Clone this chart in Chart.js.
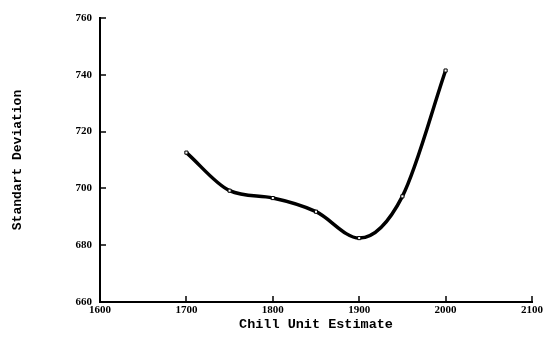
<!DOCTYPE html>
<html><head><meta charset="utf-8">
<script src="https://cdn.jsdelivr.net/npm/chart.js@4"></script>
<style>html,body{margin:0;padding:0;background:#fff}#wrap{width:545px;height:340px}</style>
</head><body><div id="wrap"><canvas id="c"></canvas></div>
<script>
const chillUnits = [1700, 1750, 1800, 1850, 1900, 1950, 2000];
const stdDev = [712.6, 699.2, 696.6, 691.8, 682.5, 697.2, 741.5];
const xTicks = [1600, 1700, 1800, 1900, 2000, 2100];
const yTicks = [660, 680, 700, 720, 740, 760];

const inwardTicks = {
  id: 'inwardTicks',
  afterDraw(chart) {
    const ctx = chart.ctx;
    const xs = chart.scales.x, ys = chart.scales.y;
    ctx.save();
    ctx.strokeStyle = '#000';
    ctx.lineWidth = 1.5;
    xTicks.forEach(v => {
      const px = Math.round(xs.getPixelForValue(v));
      ctx.beginPath(); ctx.moveTo(px, ys.bottom); ctx.lineTo(px, ys.bottom - 6); ctx.stroke();
    });
    yTicks.forEach(v => {
      const py = Math.round(ys.getPixelForValue(v));
      ctx.beginPath(); ctx.moveTo(xs.left, py); ctx.lineTo(xs.left + 6, py); ctx.stroke();
    });
    ctx.restore();
  }
};

new Chart(document.getElementById('c'), {
  type: 'line',
  data: {
    datasets: [{
      data: chillUnits.map((x, i) => ({x, y: stdDev[i]})),
      borderColor: '#000',
      borderWidth: 3.5,
      cubicInterpolationMode: 'monotone',
      pointStyle: 'rect',
      pointRadius: 2.2,
      pointBackgroundColor: '#fff',
      pointBorderColor: '#000',
      pointBorderWidth: 1,
      fill: false
    }]
  },
  options: {
    responsive: true,
    maintainAspectRatio: false,
    animation: false,
    events: [],
    layout: {padding: {top: 18, right: 12, left: 0, bottom: 0}},
    plugins: {legend: {display: false}, tooltip: {enabled: false}},
    scales: {
      x: {
        type: 'linear', min: 1600, max: 2100,
        afterBuildTicks: s => { s.ticks = xTicks.map(v => ({value: v})); },
        afterFit: s => { s.height = 38; },
        grid: {display: false, drawTicks: false},
        border: {display: true, color: '#000', width: 2},
        ticks: {color: '#000', padding: 2, maxRotation: 0, callback: v => String(v),
          font: {family: 'Liberation Serif', weight: 'bold', size: 11}},
        title: {display: true, text: 'Chill Unit Estimate', color: '#000', padding: {top: 0, bottom: 7},
          font: {family: 'Liberation Mono', weight: 'bold', size: 13.5}}
      },
      y: {
        type: 'linear', min: 660, max: 760,
        afterBuildTicks: s => { s.ticks = yTicks.map(v => ({value: v})); },
        afterFit: s => { s.width = 100; },
        grid: {display: false, drawTicks: false},
        border: {display: true, color: '#000', width: 2},
        ticks: {color: '#000', padding: 8, callback: v => String(v),
          font: {family: 'Liberation Serif', weight: 'bold', size: 11}},
        title: {display: true, text: 'Standart Deviation', color: '#000', padding: {top: 10, bottom: 0},
          font: {family: 'Liberation Mono', weight: 'bold', size: 13}}
      }
    }
  },
  plugins: [inwardTicks]
});
</script></body></html>
